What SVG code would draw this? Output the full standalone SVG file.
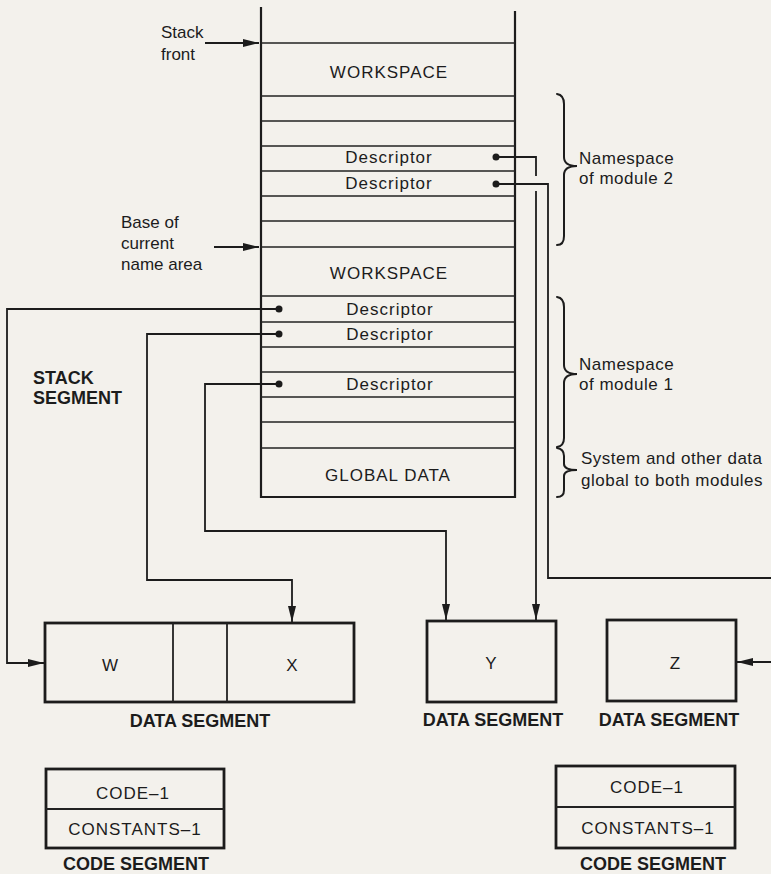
<svg xmlns="http://www.w3.org/2000/svg" width="771" height="874" viewBox="0 0 771 874">
<defs>
<style>
.t{font-family:"Liberation Sans",Arial,sans-serif;font-size:17px;fill:#1c1c1c}
.c{text-anchor:middle;letter-spacing:1px}
.r{letter-spacing:0.5px}
.b{font-family:"Liberation Sans",Arial,sans-serif;font-size:18px;font-weight:bold;fill:#1c1c1c}
.bm{text-anchor:middle}
.row{stroke:#222;stroke-width:1.4;fill:none}
.frame{stroke:#1c1c1c;stroke-width:2.2;fill:none}
.box{stroke:#1c1c1c;stroke-width:2.8;fill:none}
.conn{stroke:#1c1c1c;stroke-width:1.8;fill:none}
.brace{stroke:#1c1c1c;stroke-width:2;fill:none;stroke-linecap:round}
.dot{fill:#1c1c1c}
</style>
<marker id="ah" markerUnits="userSpaceOnUse" markerWidth="16" markerHeight="8" viewBox="0 0 16 8" refX="16" refY="4" orient="auto">
<path d="M0,0 L16,4 L0,8 z" fill="#1c1c1c"/>
</marker>
</defs>
<rect x="0" y="0" width="771" height="874" fill="#f3f1ec"/>

<g id="stack">
<path class="frame" d="M261,7 L261,497 L515,497 L515,11"/>
<g class="row">
<line x1="261" y1="43" x2="515" y2="43"/>
<line x1="261" y1="96" x2="515" y2="96"/>
<line x1="261" y1="121" x2="515" y2="121"/>
<line x1="261" y1="146" x2="515" y2="146"/>
<line x1="261" y1="171" x2="515" y2="171"/>
<line x1="261" y1="196" x2="515" y2="196"/>
<line x1="261" y1="221" x2="515" y2="221"/>
<line x1="261" y1="247" x2="515" y2="247"/>
<line x1="261" y1="296" x2="515" y2="296"/>
<line x1="261" y1="322" x2="515" y2="322"/>
<line x1="261" y1="347" x2="515" y2="347"/>
<line x1="261" y1="372" x2="515" y2="372"/>
<line x1="261" y1="397" x2="515" y2="397"/>
<line x1="261" y1="422" x2="515" y2="422"/>
<line x1="261" y1="448" x2="515" y2="448"/>
</g>
<text class="t c" x="389" y="78">WORKSPACE</text>
<text class="t c" x="389" y="163">Descriptor</text>
<text class="t c" x="389" y="189">Descriptor</text>
<text class="t c" x="389" y="279">WORKSPACE</text>
<text class="t c" x="390" y="315">Descriptor</text>
<text class="t c" x="390" y="340">Descriptor</text>
<text class="t c" x="390" y="390">Descriptor</text>
<text class="t c" x="388" y="481">GLOBAL DATA</text>
<circle class="dot" cx="496" cy="157" r="3.5"/>
<circle class="dot" cx="496" cy="184" r="3.5"/>
<circle class="dot" cx="279" cy="309" r="3.5"/>
<circle class="dot" cx="279" cy="334" r="3.5"/>
<circle class="dot" cx="279" cy="384" r="3.5"/>
</g>

<g id="labels">
<text class="t" x="161" y="38">Stack</text>
<text class="t" x="161" y="60">front</text>
<text class="t" x="121" y="228">Base of</text>
<text class="t" x="121" y="249">current</text>
<text class="t" x="121" y="270">name area</text>
<text class="b" x="33" y="384">STACK</text>
<text class="b" x="33" y="404">SEGMENT</text>
</g>

<g id="braces">
<path class="brace" d="M557,94 Q564,95 564,104 L564,157 Q564,166 577,166 Q564,166 564,175 L564,236 Q564,245 557,245"/>
<path class="brace" d="M557,297 Q564,298 564,307 L564,365 Q564,374 577,374 Q564,374 564,383 L564,438 Q564,446 557,447"/>
<path class="brace" d="M557,448 Q564,449 564,456 L564,464 Q564,470 577,470 Q564,470 564,476 L564,490 Q564,497 557,497"/>
<text class="t r" x="579" y="164">Namespace</text>
<text class="t r" x="579" y="184">of module 2</text>
<text class="t r" x="579" y="370">Namespace</text>
<text class="t r" x="579" y="390">of module 1</text>
<text class="t r" x="581" y="464">System and other data</text>
<text class="t r" x="581" y="486">global to both modules</text>
</g>

<g id="data-wx">
<rect class="box" x="45" y="623" width="309" height="79"/>
<line class="row" x1="173" y1="623" x2="173" y2="702" style="stroke-width:1.8"/>
<line class="row" x1="227" y1="623" x2="227" y2="702" style="stroke-width:1.8"/>
<text class="t" x="110" y="671" text-anchor="middle">W</text>
<text class="t" x="292" y="671" text-anchor="middle">X</text>
<text class="b bm" x="200" y="727">DATA SEGMENT</text>
</g>

<g id="data-y">
<rect class="box" x="427" y="621" width="129" height="81"/>
<text class="t" x="491" y="669" text-anchor="middle">Y</text>
<text class="b bm" x="493" y="726">DATA SEGMENT</text>
</g>

<g id="data-z">
<rect class="box" x="607" y="620" width="129" height="81"/>
<text class="t" x="675" y="669" text-anchor="middle">Z</text>
<text class="b bm" x="669" y="726">DATA SEGMENT</text>
</g>

<g id="code-1">
<rect class="box" x="46" y="769" width="178" height="79"/>
<line class="row" x1="46" y1="809" x2="224" y2="809" style="stroke-width:1.8"/>
<text class="t c" x="133" y="799">CODE–1</text>
<text class="t c" x="135" y="835">CONSTANTS–1</text>
<text class="b bm" x="136" y="870">CODE SEGMENT</text>
</g>

<g id="code-2">
<rect class="box" x="556" y="766" width="179" height="82"/>
<line class="row" x1="556" y1="807" x2="735" y2="807" style="stroke-width:1.8"/>
<text class="t c" x="647" y="793">CODE–1</text>
<text class="t c" x="648" y="834">CONSTANTS–1</text>
<text class="b bm" x="653" y="870">CODE SEGMENT</text>
</g>

<g id="connectors">
<line class="conn" x1="205" y1="43" x2="259" y2="43" marker-end="url(#ah)"/>
<line class="conn" x1="214" y1="247" x2="259" y2="247" marker-end="url(#ah)"/>
<polyline class="conn" points="279,309 7,309 7,663 44,663" marker-end="url(#ah)"/>
<polyline class="conn" points="279,334 147,334 147,580 292,580 292,622" marker-end="url(#ah)"/>
<polyline class="conn" points="279,384 205,384 205,531 446,531 446,620" marker-end="url(#ah)"/>
<polyline class="conn" points="496,157 536,157 536,176"/>
<line class="conn" x1="536" y1="191" x2="536" y2="620" marker-end="url(#ah)"/>
<polyline class="conn" points="496,184 548,184 548,578 771,578"/>
<line class="conn" x1="771" y1="662" x2="737" y2="662" marker-end="url(#ah)"/>
</g>
</svg>
